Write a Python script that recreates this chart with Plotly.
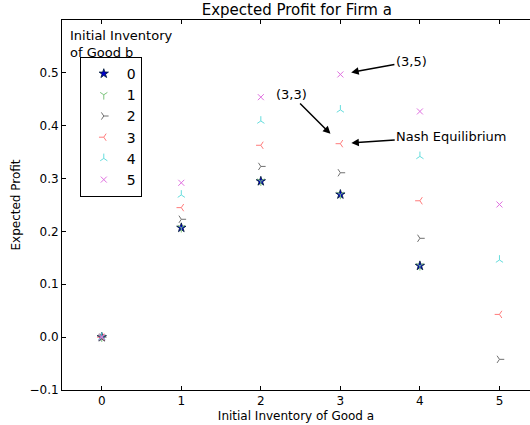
import plotly.graph_objects as go

good_a = [0, 1, 2, 3, 4, 5]
labels_b = ["0", "1", "2", "3", "4", "5"]

profit_b0 = [0.0, 0.207, 0.295, 0.270, 0.135, None]
profit_b1 = [0.0, 0.207, 0.295, 0.270, 0.135, None]
profit_b2 = [0.0, 0.223, 0.323, 0.311, 0.187, -0.042]
profit_b3 = [0.0, 0.245, 0.363, 0.366, 0.258, 0.043]
profit_b4 = [0.0, 0.269, 0.409, 0.430, 0.342, 0.146]
profit_b5 = [0.0, 0.292, 0.454, 0.497, 0.427, 0.251]

series = [profit_b0, profit_b1, profit_b2, profit_b3, profit_b4, profit_b5]
symbols = ["star", "y-down", "y-right", "y-left", "y-up", "x-thin"]
colors = ["#0000cc", "#7cc47c", "#707070", "#ff7b7b", "#66dddd", "#e070e0"]
sizes = [7, 6, 6, 6, 6, 6]

FONT = "DejaVu Sans"

fig = go.Figure()
for vals, lab, sym, col, sz in zip(series, labels_b, symbols, colors, sizes):
    if sym == "star":
        marker = dict(symbol=sym, size=sz, color=col, line=dict(color="#001a33", width=0.8))
    else:
        marker = dict(symbol=sym, size=sz, color=col, line=dict(color=col, width=1))
    fig.add_trace(go.Scatter(x=good_a, y=vals, mode="markers", name=lab, marker=marker))

ann_font = dict(family=FONT, size=13, color="black")
fig.add_annotation(x=3, y=profit_b5[3], ax=3.893, ay=0.522, axref="x", ayref="y",
                   text="(3,5)", showarrow=True, arrowhead=2, arrowsize=1, arrowwidth=1.5,
                   arrowcolor="black", standoff=11, font=ann_font)
fig.add_annotation(x=3, y=profit_b3[3], ax=2.38, ay=0.459, axref="x", ayref="y",
                   text="(3,3)", showarrow=True, arrowhead=2, arrowsize=1, arrowwidth=1.5,
                   arrowcolor="black", standoff=14, font=ann_font)
fig.add_annotation(x=3, y=profit_b3[3], ax=4.40, ay=0.3805, axref="x", ayref="y",
                   text="Nash Equilibrium", showarrow=True, arrowhead=2, arrowsize=1, arrowwidth=1.5,
                   arrowcolor="black", standoff=11, font=ann_font)
fig.add_annotation(x=0.012, y=0.985, xref="paper", yref="paper", xanchor="left", yanchor="top",
                   text="Initial Inventory<br>of Good b", showarrow=False, align="left",
                   font=dict(family=FONT, size=13, color="black"))

yt = [-0.1, 0.0, 0.1, 0.2, 0.3, 0.4, 0.5]
fig.update_layout(
    width=530, height=425,
    margin=dict(l=62, r=0, t=20, b=35),
    paper_bgcolor="white", plot_bgcolor="white",
    font=dict(family=FONT, size=12, color="black"),
    title=dict(text="Expected Profit for Firm a", x=0.56, xanchor="center",
               y=(425 - 10) / 425, yref="container", yanchor="middle",
               font=dict(family=FONT, size=15, color="black")),
    showlegend=True,
    legend=dict(x=0.038, y=0.9, xanchor="left", yanchor="top",
                bordercolor="black", borderwidth=1, bgcolor="white",
                font=dict(family=FONT, size=14, color="black"),
                itemwidth=36, tracegroupgap=0),
    xaxis=dict(range=[-0.5, 5.384], tickvals=good_a, ticktext=[str(v) for v in good_a],
               showgrid=False, zeroline=False, showline=True, linecolor="black", linewidth=1,
               mirror="allticks", ticks="inside", ticklen=4, tickcolor="black",
               title=dict(text="Initial Inventory of Good a", font=dict(family=FONT, size=12), standoff=4)),
    yaxis=dict(range=[-0.1, 0.6], tickvals=yt, ticktext=["\u22120.1"] + [f"{v:.1f}" for v in yt[1:]],
               showgrid=False, zeroline=False, showline=True, linecolor="black", linewidth=1,
               ticks="inside", ticklen=4, tickcolor="black",
               title=dict(text="Expected Profit", font=dict(family=FONT, size=12), standoff=6)),
)

fig.write_html("out.html", config={"displayModeBar": False},
               post_script="document.body.style.margin='0';")
